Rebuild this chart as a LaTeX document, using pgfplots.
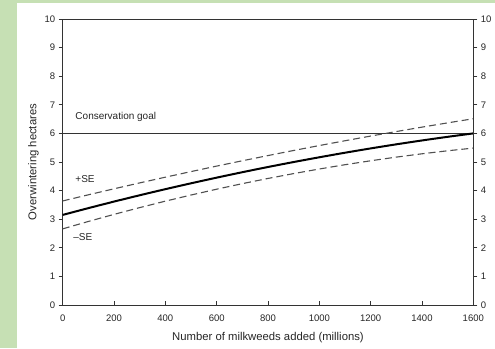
\documentclass[border=0pt]{standalone}
\usepackage{pgfplots}
\pgfplotsset{compat=1.18}
\usepackage{fontspec}
\setmainfont{Liberation Sans}
\definecolor{bggreen}{HTML}{C6E0B4}
\definecolor{axgray}{HTML}{333333}
\definecolor{dashgray}{HTML}{505050}
\pgfplotstableread{
x s u l
0 3.150 3.638 2.662
100 3.387 3.853 2.921
200 3.616 4.063 3.169
300 3.837 4.269 3.405
400 4.050 4.469 3.631
500 4.255 4.665 3.845
600 4.453 4.857 4.049
700 4.643 5.043 4.243
800 4.825 5.225 4.425
900 4.999 5.403 4.595
1000 5.165 5.575 4.755
1100 5.324 5.743 4.905
1200 5.475 5.907 5.043
1300 5.618 6.065 5.171
1400 5.753 6.219 5.287
1500 5.880 6.368 5.392
1600 6.000 6.513 5.487
}\curves
\begin{document}
\begin{tikzpicture}[x=1pt,y=1pt]
\useasboundingbox (0,0) rectangle (495,348);
\fill[bggreen] (0,0) rectangle (495,348);
\fill[white] (16.7,0) rectangle (495,344.7);
\pgfplotsset{
  common/.style={
    scale only axis, width=410.6pt, height=286pt,
    at={(62.7pt,43pt)}, anchor=south west,
    xmin=0, xmax=1600, ymin=0, ymax=10,
    axis line style={axgray, line width=0.8pt},
    tick style={axgray, line width=0.7pt},
    ytick={0,1,...,10},
    tick label style={font=\fontsize{9.5}{10}\selectfont, text=black!85},
    /pgf/number format/assume math mode=true,
    /pgf/number format/1000 sep={},
  }
}
\begin{axis}[common,
  xtick={0,200,...,1600}, xtick pos=bottom, xtick align=inside,
  ytick pos=left, ytick align=outside,
  major tick length=4pt,
  xlabel={Number of milkweeds added (millions)},
  ylabel={Overwintering hectares},
  label style={font=\fontsize{11.3}{13}\selectfont, text=black!85},
  xlabel style={yshift=-4pt},
  ylabel style={yshift=-1pt},
  xticklabel style={yshift=-6pt},
  clip=false,
]
\addplot[axgray, line width=0.9pt] coordinates {(0,6) (1600,6)};
\addplot[dashgray, line width=1.1pt, dash pattern=on 7pt off 4pt] table[x=x,y=u] {\curves};
\addplot[dashgray, line width=1.1pt, dash pattern=on 7pt off 4pt] table[x=x,y=l] {\curves};
\addplot[black, line width=2pt, smooth] table[x=x,y=s] {\curves};
\node[anchor=west, font=\fontsize{10}{11}\selectfont, text=black!85] at (axis cs:36,6.58) {Conservation goal};
\node[anchor=west, font=\fontsize{10}{11}\selectfont, text=black!85] at (axis cs:36,4.4) {+SE};
\node[anchor=west, font=\fontsize{10}{11}\selectfont, text=black!85] at (axis cs:28,2.37) {\textendash SE};
\end{axis}
\begin{axis}[common,
  axis x line=none,
  ytick pos=right, yticklabel pos=right, ytick align=outside,
  major tick length=4pt,
  axis y line*=right,
]
\end{axis}
\end{tikzpicture}
\end{document}
